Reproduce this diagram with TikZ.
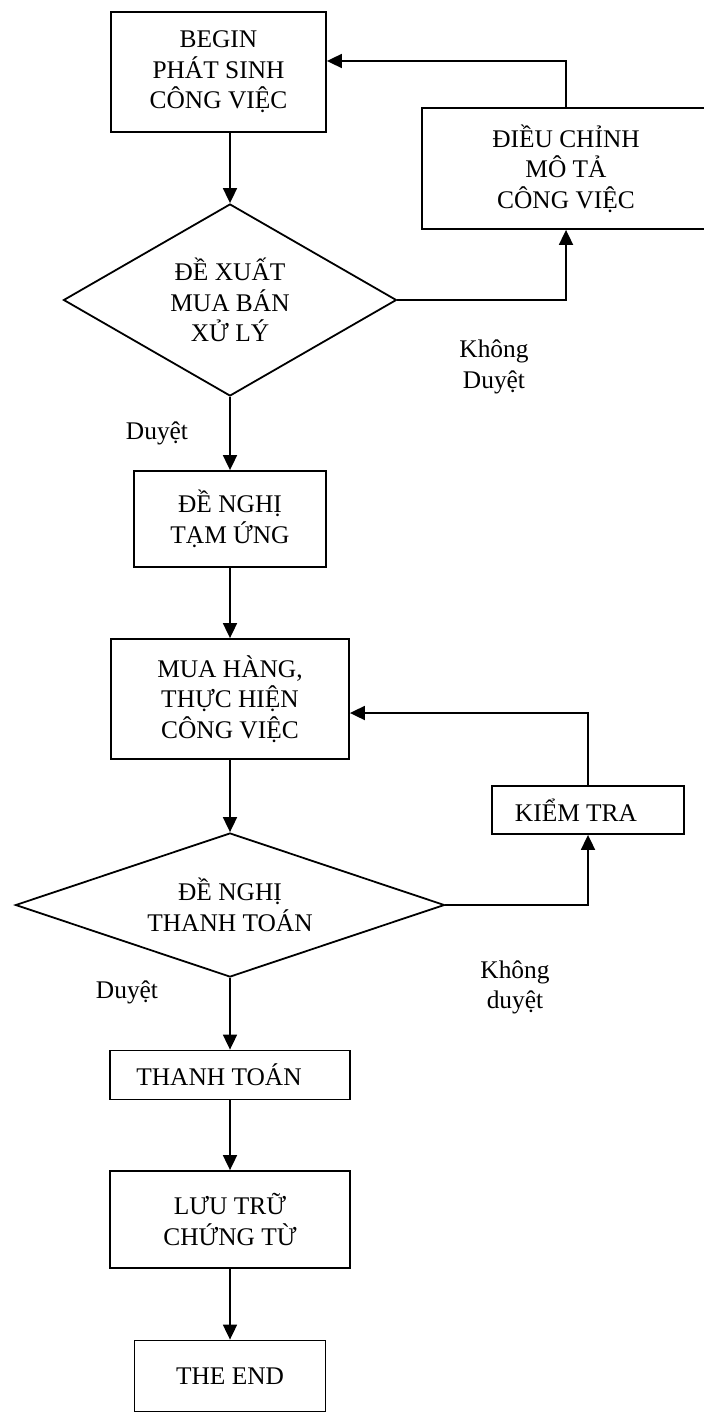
\documentclass[tikz,border=0pt]{standalone}
\usepackage{fontspec}
\setmainfont{Liberation Serif}
\usetikzlibrary{arrows.meta,shapes.geometric,positioning}
\tikzset{
    box/.style={
    rectangle,draw=black,inner sep=0pt,align=center
    },
    decision/.style={
    diamond,draw=black,inner sep=0pt,align=center
    },
    note/.style={
    align=center,inner sep=0pt
    },
}

\begin{document}
\begin{tikzpicture}[>={Triangle[length=7.5pt,width=7pt]}, line width=0.9pt, on grid,
    font=\fontsize{12.7}{15.2}\selectfont]
   \useasboundingbox (0,0) rectangle (352pt,-706pt);

   \node[box,minimum width=107.5pt,minimum height=60pt] (begin) at (109.25pt,-36pt) {BEGIN\\PHÁT SINH\\CÔNG VIỆC};
   \node[decision,aspect=1.73,minimum width=166.5pt,minimum height=96pt,below right=114pt and 5.75pt of begin] (xuat) {ĐỀ XUẤT\\MUA BÁN\\XỬ LÝ};
   \node[box,minimum width=144pt,minimum height=60.5pt] (dc) at (283pt,-84.25pt) {ĐIỀU CHỈNH\\MÔ TẢ\\CÔNG VIỆC};
   \node[note] (khong1) at (247pt,-183.5pt) {Không\\Duyệt};
   \node[note] (duyet1) at (78.5pt,-216.5pt) {Duyệt};

   \node[box,minimum width=96pt,minimum height=48pt,below=109.5pt of xuat] (tamung) {ĐỀ NGHỊ\\TẠM ỨNG};
   \node[box,minimum width=119pt,minimum height=60pt,below=90pt of tamung] (muahang) {MUA HÀNG,\\THỰC HIỆN\\CÔNG VIỆC};
   \node[box,minimum width=96pt,minimum height=24pt] (kiemtra) at (294pt,-405pt) {KIỂM TRA\hspace{12pt}};

   \node[decision,aspect=2.98,minimum width=214.5pt,minimum height=72pt,below=103pt of muahang] (ttoan) {ĐỀ NGHỊ\\THANH TOÁN};
   \node[note] (khong2) at (257.5pt,-493.75pt) {Không\\duyệt};
   \node[note] (duyet2) at (63.5pt,-496pt) {Duyệt};

   \node[box,minimum width=120pt,minimum height=24.5pt,below=85pt of ttoan] (thanhtoan) {THANH TOÁN\hspace{11pt}};
   \node[box,minimum width=120pt,minimum height=48.5pt,below=72.25pt of thanhtoan] (luutru) {LƯU TRỮ\\CHỨNG TỪ};
   \node[box,minimum width=95.5pt,minimum height=35.5pt,below=78.25pt of luutru] (theend) {THE END};

  \path[->]
    (begin.south -| xuat.north) edge (xuat.north)
    (xuat) edge (tamung)
    (tamung) edge (muahang)
    (muahang) edge (ttoan)
    (ttoan) edge (thanhtoan)
    (thanhtoan) edge (luutru)
    (luutru) edge (theend);

  % vong lai khi khong duyet
  \draw[->] (xuat.east) -| (dc.south);
  \draw[->] (dc.north) |- ([yshift=5.5pt]begin.east);
  \draw[->] (ttoan.east) -| (kiemtra.south);
  \draw[->] (kiemtra.north) |- ([yshift=-7pt]muahang.east);
\end{tikzpicture}
\end{document}
